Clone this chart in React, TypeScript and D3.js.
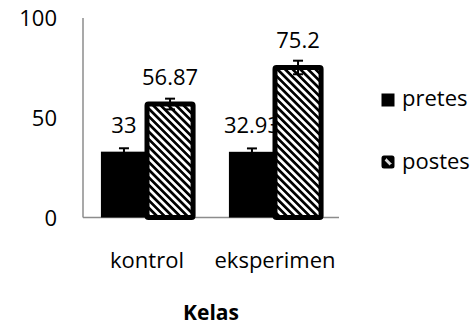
import React from "react";
import * as d3 from "d3";

const categories = ["kontrol", "eksperimen"];
const seriesNames = ["pretes", "postes"];
const pretesValues = [33, 32.93];
const postesValues = [56.87, 75.2];
const pretesErrors = [1.7, 1.7];
const postesErrors = [2.7, 3.4];
const pretesLabels = ["33", "32.93"];
const postesLabels = ["56.87", "75.2"];
const yTicks = [0, 50, 100];
const xTitle = "Kelas";

const W = 474;
const H = 326;
const FONT = "'Open Sans', sans-serif";

export default function App() {
  const y = d3.scaleLinear().domain([0, 100]).range([217.5, 18]);
  const x0 = d3.scaleBand<string>().domain(categories).range([83, 339]).paddingInner(0.28).paddingOuter(0.14);
  const x1 = d3.scaleBand<string>().domain(seriesNames).range([0, x0.bandwidth()]);
  const bw = x1.bandwidth();

  const series = [
    { name: "pretes", values: pretesValues, errors: pretesErrors, labels: pretesLabels },
    { name: "postes", values: postesValues, errors: postesErrors, labels: postesLabels },
  ];

  const P = 5.4;

  return (
    <svg width={W} height={H} style={{ position: "absolute", left: 0, top: 0, background: "#fff" }} fontFamily={FONT}>
      <defs>
        <pattern id="stripes" patternUnits="userSpaceOnUse" width={P} height={P} patternTransform="rotate(-45)">
          <rect x={0} y={0} width={P} height={P} fill="#fff" />
          <rect x={0} y={0} width={P / 2} height={P} fill="#000" />
        </pattern>
      </defs>
      {/* axes */}
      <line x1={83} x2={83} y1={y(100)} y2={y(0)} stroke="#8c8c8c" strokeWidth={1.5} />
      <line x1={83} x2={339} y1={y(0)} y2={y(0)} stroke="#8c8c8c" strokeWidth={1.5} />
      {yTicks.map((t) => (
        <text key={t} x={57} y={y(t) + 8} textAnchor="end" fontSize={22} fill="#000">
          {t}
        </text>
      ))}
      {series.map((s) => (
        <g key={s.name}>
          {categories.map((c, i) => {
            const bx = (x0(c) ?? 0) + (x1(s.name) ?? 0);
            const v = s.values[i];
            const e = s.errors[i];
            const cx = bx + bw / 2;
            const isPost = s.name === "postes";
            return (
              <g key={c}>
                {isPost ? (
                  <rect x={bx} y={y(v)} width={bw} height={y(0) - y(v)} fill="url(#stripes)" stroke="#000" strokeWidth={5} rx={1.5} />
                ) : (
                  <rect x={bx} y={y(v)} width={bw} height={y(0) - y(v)} fill="#000" />
                )}
                <g stroke="#000" strokeWidth={2}>
                  <line x1={cx} x2={cx} y1={y(v + e)} y2={y(v - e)} />
                  <line x1={cx - 5} x2={cx + 5} y1={y(v + e)} y2={y(v + e)} />
                  <line x1={cx - 5} x2={cx + 5} y1={y(v - e)} y2={y(v - e)} />
                </g>
                <text x={cx} y={y(v) - 19} textAnchor="middle" fontSize={22} fill="#000">
                  {s.labels[i]}
                </text>
              </g>
            );
          })}
        </g>
      ))}
      {categories.map((c) => (
        <text key={c} x={(x0(c) ?? 0) + x0.bandwidth() / 2} y={268} textAnchor="middle" fontSize={22} fill="#000">
          {c}
        </text>
      ))}
      <text x={211} y={320} textAnchor="middle" fontSize={21} fontWeight="bold" fill="#000">
        {xTitle}
      </text>
      {/* legend */}
      <rect x={381.5} y={93.5} width={13} height={13} fill="#000" />
      <text x={402} y={106} fontSize={22} fill="#000">{seriesNames[0]}</text>
      <rect x={381.5} y={155.5} width={13} height={13} fill="#000" rx={2.5} />
      <line x1={385.5} y1={159.5} x2={390.5} y2={164.5} stroke="#d9d9d9" strokeWidth={2.5} />
      <line x1={386} y1={158} x2={392} y2={164} stroke="#888" strokeWidth={1} />
      <text x={402} y={169} fontSize={22} fill="#000">{seriesNames[1]}</text>
    </svg>
  );
}
